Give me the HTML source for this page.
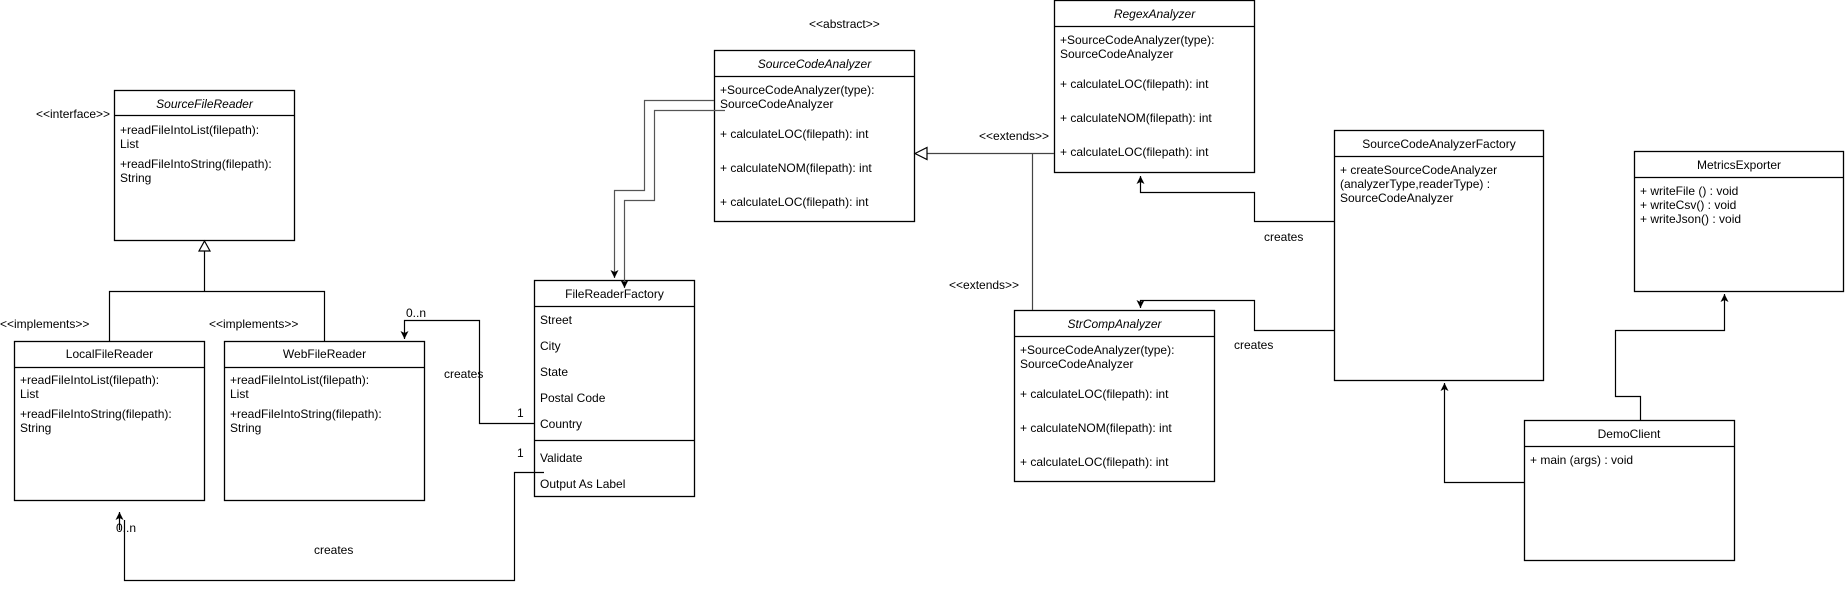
<!DOCTYPE html>
<html><head><meta charset="utf-8"><style>
html,body{margin:0;padding:0;background:#fff;}
svg{display:block;}
text{font-family:"Liberation Sans",sans-serif;font-size:12px;fill:#000;}
.i{font-style:italic;}
</style></head><body>
<svg width="1846" height="591" viewBox="0 0 1846 591" xmlns="http://www.w3.org/2000/svg">
<defs>
<marker id="a" markerWidth="10" markerHeight="10" refX="8" refY="4" orient="auto" markerUnits="userSpaceOnUse"><path d="M0,0 L8,4 L0,8 L2,4 Z" fill="#000"/></marker>
</defs>
<g fill="#fff" stroke="#000" stroke-width="1.3">
<rect x="114.5" y="90.5" width="180" height="150"/><line x1="114.5" y1="115.5" x2="294.5" y2="115.5"/>
<rect x="14.5" y="341.5" width="190" height="159"/><line x1="14.5" y1="367.5" x2="204.5" y2="367.5"/>
<rect x="224.5" y="341.5" width="200" height="159"/><line x1="224.5" y1="367.5" x2="424.5" y2="367.5"/>
<rect x="534.5" y="280.5" width="160" height="216"/><line x1="534.5" y1="306.5" x2="694.5" y2="306.5"/><line x1="534.5" y1="440.5" x2="694.5" y2="440.5"/>
<rect x="714.5" y="50.5" width="200" height="171"/><line x1="714.5" y1="76.5" x2="914.5" y2="76.5"/>
<rect x="1054.5" y="0.5" width="200" height="172"/><line x1="1054.5" y1="26.5" x2="1254.5" y2="26.5"/>
<rect x="1014.5" y="310.5" width="200" height="171"/><line x1="1014.5" y1="336.5" x2="1214.5" y2="336.5"/>
<rect x="1334.5" y="130.5" width="209" height="250"/><line x1="1334.5" y1="156.5" x2="1543.5" y2="156.5"/>
<rect x="1634.5" y="151.5" width="209" height="140"/><line x1="1634.5" y1="177.5" x2="1843.5" y2="177.5"/>
<rect x="1524.5" y="420.5" width="210" height="140"/><line x1="1524.5" y1="446.5" x2="1734.5" y2="446.5"/>
</g>
<g fill="none" stroke="#000" stroke-width="1.2">
<polyline points="109.5,341 109.5,291.5 324.5,291.5 324.5,341"/>
<line x1="204.5" y1="291.5" x2="204.5" y2="251"/>
<path d="M204.5,241 L210,251 L199,251 Z" fill="#fff"/>
<polyline points="534,423.5 479.5,423.5 479.5,320.5 404.5,320.5 404.5,339" marker-end="url(#a)"/>
<polyline points="544,472.5 514.5,472.5 514.5,580.5 124.5,580.5 124.5,520"/>
<line x1="119.5" y1="530" x2="119.5" y2="512" marker-end="url(#a)"/>
<polyline points="714,100.5 644.5,100.5 644.5,190.5 614.5,190.5 614.5,278" stroke="#555" marker-end="url(#a)"/>
<polyline points="725,110.5 654.5,110.5 654.5,200.5 624.5,200.5 624.5,288" stroke="#555" marker-end="url(#a)"/>
<line x1="1054" y1="153.5" x2="926" y2="153.5" stroke="#444"/>
<path d="M915,153.5 L927,147.5 L927,159.5 Z" fill="#fff"/>
<line x1="1032.5" y1="153.5" x2="1032.5" y2="310" stroke="#444"/>
<polyline points="1334,221.5 1254.5,221.5 1254.5,192.5 1140.5,192.5 1140.5,176" marker-end="url(#a)"/>
<polyline points="1334,330.5 1254.5,330.5 1254.5,300.5 1140.5,300.5 1140.5,308" marker-end="url(#a)"/>
<polyline points="1524,482.5 1444.5,482.5 1444.5,383" marker-end="url(#a)"/>
<polyline points="1640.5,420 1640.5,396.5 1615.5,396.5 1615.5,330.5 1724.5,330.5 1724.5,294" marker-end="url(#a)"/>
</g>
<text x="36" y="118">&lt;&lt;interface&gt;&gt;</text>
<text x="0" y="328">&lt;&lt;implements&gt;&gt;</text>
<text x="209" y="328">&lt;&lt;implements&gt;&gt;</text>
<text x="406" y="317">0..n</text>
<text x="444" y="378">creates</text>
<text x="517" y="417">1</text>
<text x="517" y="457">1</text>
<text x="116" y="532">0..n</text>
<text x="314" y="554">creates</text>
<text x="809" y="28">&lt;&lt;abstract&gt;&gt;</text>
<text x="979" y="140">&lt;&lt;extends&gt;&gt;</text>
<text x="949" y="289">&lt;&lt;extends&gt;&gt;</text>
<text x="1264" y="241">creates</text>
<text x="1234" y="349">creates</text>

<text class="i" x="204.5" y="108" text-anchor="middle">SourceFileReader</text>
<text x="120" y="134">+readFileIntoList(filepath):</text><text x="120" y="148">List</text>
<text x="120" y="168">+readFileIntoString(filepath):</text><text x="120" y="182">String</text>

<text x="109.5" y="358" text-anchor="middle">LocalFileReader</text>
<text x="20" y="384">+readFileIntoList(filepath):</text><text x="20" y="398">List</text>
<text x="20" y="418">+readFileIntoString(filepath):</text><text x="20" y="432">String</text>

<text x="324.5" y="358" text-anchor="middle">WebFileReader</text>
<text x="230" y="384">+readFileIntoList(filepath):</text><text x="230" y="398">List</text>
<text x="230" y="418">+readFileIntoString(filepath):</text><text x="230" y="432">String</text>

<text x="614.5" y="298" text-anchor="middle">FileReaderFactory</text>
<text x="540" y="324">Street</text><text x="540" y="350">City</text><text x="540" y="376">State</text>
<text x="540" y="402">Postal Code</text><text x="540" y="428">Country</text>
<text x="540" y="462">Validate</text><text x="540" y="488">Output As Label</text>

<text class="i" x="814.5" y="68" text-anchor="middle">SourceCodeAnalyzer</text>
<text x="720" y="94">+SourceCodeAnalyzer(type):</text><text x="720" y="108">SourceCodeAnalyzer</text>
<text x="720" y="138">+ calculateLOC(filepath): int</text>
<text x="720" y="172">+ calculateNOM(filepath): int</text>
<text x="720" y="206">+ calculateLOC(filepath): int</text>

<text class="i" x="1154.5" y="18" text-anchor="middle">RegexAnalyzer</text>
<text x="1060" y="44">+SourceCodeAnalyzer(type):</text><text x="1060" y="58">SourceCodeAnalyzer</text>
<text x="1060" y="88">+ calculateLOC(filepath): int</text>
<text x="1060" y="122">+ calculateNOM(filepath): int</text>
<text x="1060" y="156">+ calculateLOC(filepath): int</text>

<text class="i" x="1114.5" y="328" text-anchor="middle">StrCompAnalyzer</text>
<text x="1020" y="354">+SourceCodeAnalyzer(type):</text><text x="1020" y="368">SourceCodeAnalyzer</text>
<text x="1020" y="398">+ calculateLOC(filepath): int</text>
<text x="1020" y="432">+ calculateNOM(filepath): int</text>
<text x="1020" y="466">+ calculateLOC(filepath): int</text>

<text x="1439" y="148" text-anchor="middle">SourceCodeAnalyzerFactory</text>
<text x="1340" y="174">+ createSourceCodeAnalyzer</text>
<text x="1340" y="188"> (analyzerType,readerType) :</text>
<text x="1340" y="202">SourceCodeAnalyzer</text>

<text x="1739" y="169" text-anchor="middle">MetricsExporter</text>
<text x="1640" y="195">+ writeFile () : void</text>
<text x="1640" y="209">+ writeCsv() : void</text>
<text x="1640" y="223">+ writeJson() : void</text>

<text x="1629" y="438" text-anchor="middle">DemoClient</text>
<text x="1530" y="464">+ main (args) : void</text>
</svg>
</body></html>
